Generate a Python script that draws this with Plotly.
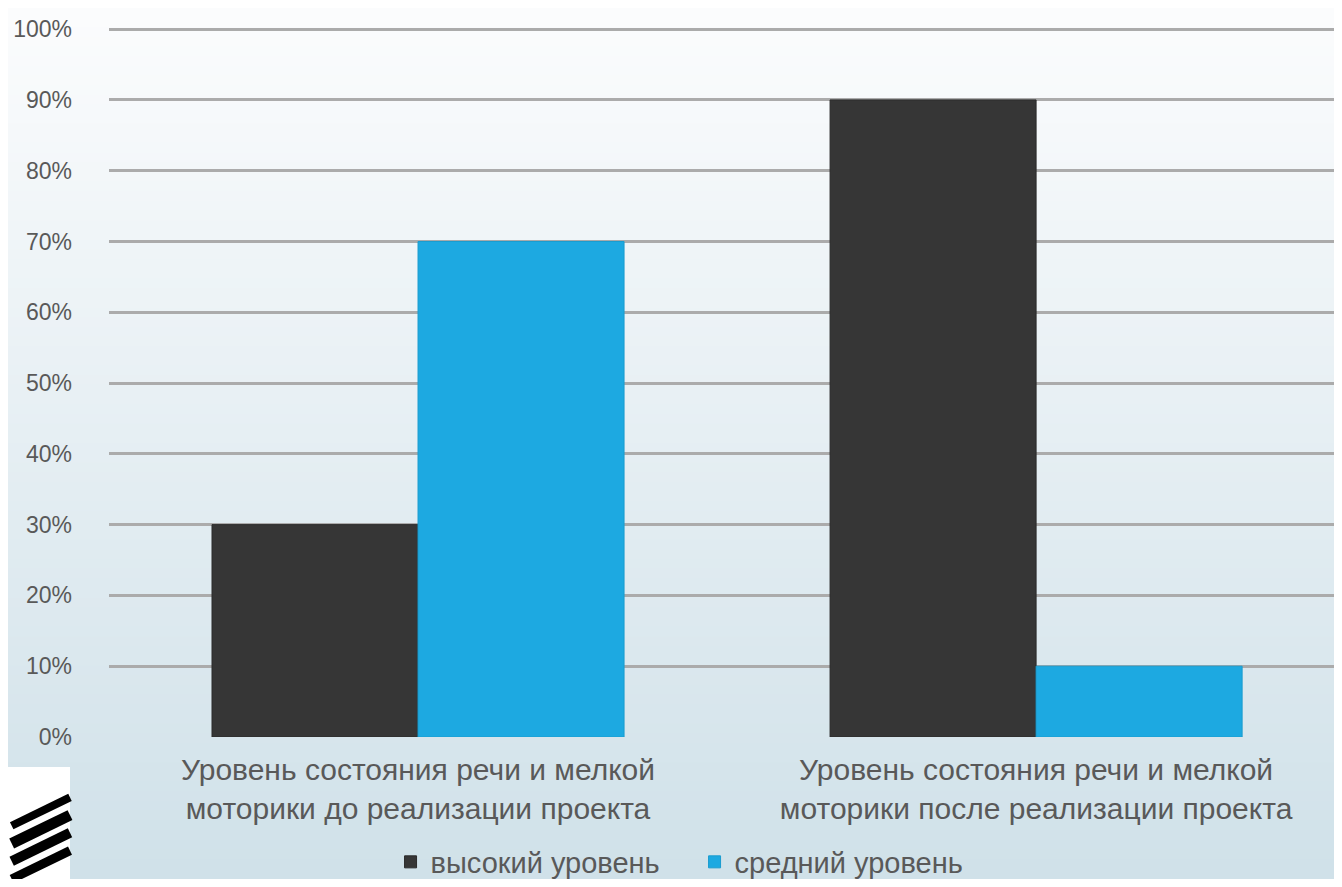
import plotly.graph_objects as go

categories = [
    "Уровень состояния речи и мелкой<br>моторики до реализации проекта",
    "Уровень состояния речи и мелкой<br>моторики после реализации проекта",
]
series_names = ["высокий уровень", "средний уровень"]
high_values = [0.30, 0.90]
mid_values = [0.70, 0.10]
series_colors = ["#363636", "#1DA9E1"]
tick_vals = [0, 0.1, 0.2, 0.3, 0.4, 0.5, 0.6, 0.7, 0.8, 0.9, 1.0]
tick_text = ["0%", "10%", "20%", "30%", "40%", "50%", "60%", "70%", "80%", "90%", "100%"]

W, H = 1326, 871
L, R, T, B = 101, 0, 19, 142
PW, PH = W - L - R, H - T - B
font_family = "Liberation Sans, Arial, sans-serif"
text_color = "#595959"

fig = go.Figure()
fig.add_trace(go.Bar(x=categories, y=high_values, name=series_names[0],
                     marker=dict(color=series_colors[0], line=dict(color="#2a2a2a", width=1))))
fig.add_trace(go.Bar(x=categories, y=mid_values, name=series_names[1],
                     marker=dict(color=series_colors[1], line=dict(color="#1a9ccf", width=1))))

# vertical gradient background built from thin bands
shapes = []
n = 90
top = (251, 252, 253)
bot = (208, 225, 233)
y_top = 1 + T / PH
y_bot = -B / PH
for i in range(n):
    t = i / (n - 1)
    c = tuple(round(top[k] + (bot[k] - top[k]) * t) for k in range(3))
    y1 = y_top - i * (y_top - y_bot) / n
    y0 = y_top - (i + 1) * (y_top - y_bot) / n
    shapes.append(dict(type="rect", xref="paper", yref="paper",
                       x0=-0.2, x1=1.2, y0=y0 - 0.001, y1=y1 + 0.001,
                       fillcolor="rgb(%d,%d,%d)" % c, line=dict(width=0), layer="below"))

fig.update_layout(
    width=W, height=H,
    margin=dict(l=L, r=R, t=T, b=B, pad=0, autoexpand=False),
    paper_bgcolor="#D6E4EB",
    plot_bgcolor="rgba(0,0,0,0)",
    barmode="group",
    bargap=1 / 3,
    bargroupgap=0,
    shapes=shapes,
    font=dict(family=font_family, size=22, color=text_color),
    showlegend=True,
    legend=dict(orientation="h", x=0.478, xanchor="center",
                yref="container", y=17 / H, yanchor="middle",
                font=dict(size=29, color=text_color), bgcolor="rgba(0,0,0,0)",
                entrywidth=259, entrywidthmode="pixels", traceorder="normal"),
    xaxis=dict(range=[-0.5, 1.482], showgrid=False, showline=False, zeroline=False,
               automargin=False, ticks="", ticklabelstandoff=12,
               tickfont=dict(size=30, color=text_color)),
    yaxis=dict(range=[0, 1.003], tickvals=tick_vals, ticktext=tick_text,
               showgrid=True, gridcolor="#ABABAB", gridwidth=2.5, automargin=False,
               zeroline=False, showline=False, ticks="", ticklabelstandoff=36,
               tickfont=dict(size=23, color=text_color)),
)

# decorative white image fragment in the bottom-left corner
sx0, sx1 = -L / PW, (62 - L) / PW
sy0, sy1 = -B / PH, -30 / PH
fig.add_shape(type="rect", xref="paper", yref="paper",
              x0=sx0, x1=sx1, y0=sy0, y1=sy1,
              fillcolor="white", line=dict(width=0), layer="above")
for (y0, y1, w) in [(-0.125, -0.085, 8), (-0.15, -0.11, 11), (-0.175, -0.135, 10), (-0.2, -0.16, 9)]:
    fig.add_shape(type="line", xref="paper", yref="paper",
                  x0=sx0 + 0.003, x1=sx1, y0=y0, y1=y1,
                  line=dict(color="black", width=w), layer="above")

fig.write_html("out.html")
